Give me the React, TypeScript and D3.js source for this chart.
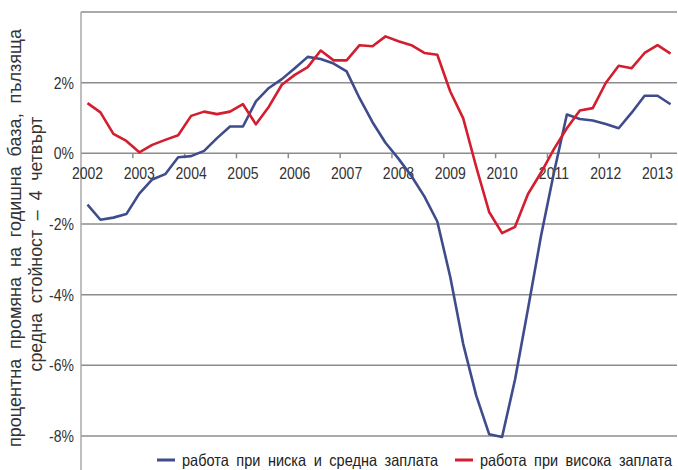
import React, { useRef, useEffect } from 'react';
import * as d3 from 'd3';

// quarterly data, 2002 Q1 .. 2013 Q2
const years = ['2002', '2003', '2004', '2005', '2006', '2007', '2008', '2009', '2010', '2011', '2012', '2013'];
const quarters = years.flatMap(y => ['Q1', 'Q2', 'Q3', 'Q4'].map(q => `${y} ${q}`)).slice(0, 46);

const lowMidWage = [
  -1.45, -1.88, -1.82, -1.72, -1.14, -0.74, -0.59, -0.11, -0.08, 0.07,
  0.43, 0.76, 0.76, 1.47, 1.85, 2.10, 2.41, 2.73, 2.67, 2.54,
  2.32, 1.56, 0.88, 0.30, -0.15, -0.64, -1.22, -1.93, -3.5, -5.4,
  -6.85, -7.95, -8.03, -6.4, -4.4, -2.35, -0.55, 1.1, 0.97, 0.93,
  0.83, 0.71, 1.15, 1.63, 1.63, 1.39,
];

const highWage = [
  1.42, 1.16, 0.55, 0.35, 0.03, 0.24, 0.38, 0.51, 1.06, 1.18,
  1.11, 1.18, 1.39, 0.82, 1.32, 1.94, 2.22, 2.44, 2.91, 2.63,
  2.63, 3.06, 3.03, 3.31, 3.17, 3.06, 2.84, 2.79, 1.75, 0.99,
  -0.38, -1.66, -2.26, -2.08, -1.15, -0.55, 0.12, 0.71, 1.21, 1.28,
  1.99, 2.48, 2.41, 2.84, 3.06, 2.82,
];

const gridValues = [4, 2, 0, -2, -4, -6, -8];
const yTickLabels = [2, 0, -2, -4, -6, -8];

const seriesNames = ['работа при ниска и средна заплата', 'работа при висока заплата'];
const yTitle = ['процентна промяна на годишна база, пълзяща', 'средна стойност – 4 четвърт'];

const FONT = "'Liberation Sans', Arial, sans-serif";
const BLUE = '#3f4c8c';
const RED = '#d21e2e';
const NARROW = 0.85; // the original uses a narrow face

const Chart: React.FC = () => {
  const svgRef = useRef<SVGSVGElement | null>(null);

  useEffect(() => {
    if (!svgRef.current) return;
    const svg = d3.select(svgRef.current);

    const x = d3.scaleBand<string>().domain(quarters).range([81, 677]);
    const y = d3.scaleLinear().domain([-9, 4]).range([471.3, 12]);
    const cx = (q: string) => x(q)! + x.bandwidth() / 2;

    // gridlines
    svg.append('g')
      .selectAll('line')
      .data(gridValues)
      .join('line')
      .attr('x1', 81)
      .attr('x2', 677)
      .attr('y1', d => y(d))
      .attr('y2', d => y(d))
      .attr('stroke', '#8c8c8c')
      .attr('stroke-width', 1.5);

    // left axis line
    svg.append('line')
      .attr('x1', 81).attr('x2', 81)
      .attr('y1', 12).attr('y2', 470)
      .attr('stroke', '#a8a8a8')
      .attr('stroke-width', 1.5);

    // y tick labels
    svg.append('g')
      .selectAll('text')
      .data(yTickLabels)
      .join('text')
      .attr('transform', d => `translate(74,${y(d)}) scale(${NARROW},1)`)
      .attr('dy', '0.36em')
      .attr('text-anchor', 'end')
      .attr('font-family', FONT)
      .attr('font-size', 16.5)
      .attr('fill', '#333')
      .text(d => `${d}%`);

    // x ticks at year boundaries + year labels along the 0% line
    const yearStarts = quarters.filter((_, i) => i % 4 === 0);
    svg.append('g')
      .selectAll('line')
      .data(yearStarts.slice(1))
      .join('line')
      .attr('x1', d => x(d)!)
      .attr('x2', d => x(d)!)
      .attr('y1', y(0))
      .attr('y2', y(0) + 5)
      .attr('stroke', '#8c8c8c')
      .attr('stroke-width', 1.5);

    svg.append('g')
      .selectAll('text')
      .data(yearStarts)
      .join('text')
      .attr('transform', d => `translate(${cx(d)},${y(0) + 25.5}) scale(${NARROW},1)`)
      .attr('text-anchor', 'middle')
      .attr('font-family', FONT)
      .attr('font-size', 16.5)
      .attr('fill', '#333')
      .text(d => d.slice(0, 4));

    // series lines
    const line = d3.line<number>()
      .x((_, i) => cx(quarters[i]))
      .y(d => y(d));

    [[lowMidWage, BLUE], [highWage, RED]].forEach(([vals, color]) => {
      svg.append('path')
        .datum(vals as number[])
        .attr('d', line)
        .attr('fill', 'none')
        .attr('stroke', color as string)
        .attr('stroke-width', 2.6)
        .attr('stroke-linejoin', 'round');
    });

    // y axis title, two rotated lines
    const titlePos = [{ x: 21, y: 238, len: 418 }, { x: 42, y: 244, len: 255 }];
    svg.append('g')
      .selectAll('text')
      .data(yTitle)
      .join('text')
      .attr('transform', (_, i) => `translate(${titlePos[i].x},${titlePos[i].y}) rotate(-90)`)
      .attr('text-anchor', 'middle')
      .attr('font-family', FONT)
      .attr('font-size', 18.5)
      .attr('word-spacing', 5)
      .attr('textLength', (_, i) => titlePos[i].len)
      .attr('lengthAdjust', 'spacingAndGlyphs')
      .attr('fill', '#333')
      .text(d => d);

    // legend
    const legendPos = [{ x: 157, len: 256 }, { x: 455, len: 192 }];
    const legend = svg.append('g')
      .selectAll('g')
      .data(seriesNames)
      .join('g')
      .attr('transform', (_, i) => `translate(${legendPos[i].x},460)`);
    legend.append('line')
      .attr('x1', 0).attr('x2', 18)
      .attr('stroke', (_, i) => (i === 0 ? BLUE : RED))
      .attr('stroke-width', 3);
    legend.append('text')
      .attr('x', 25)
      .attr('y', 6)
      .attr('font-family', FONT)
      .attr('font-size', 16.5)
      .attr('word-spacing', 4)
      .attr('textLength', (_, i) => legendPos[i].len)
      .attr('lengthAdjust', 'spacingAndGlyphs')
      .attr('fill', '#222')
      .text(d => d);

    return () => {
      svg.selectAll('*').remove();
    };
  }, []);

  return (
    <svg
      ref={svgRef}
      width={678}
      height={470}
      style={{ position: 'absolute', left: 0, top: 0, background: '#fff' }}
    />
  );
};

export default function App() {
  return <Chart />;
}
